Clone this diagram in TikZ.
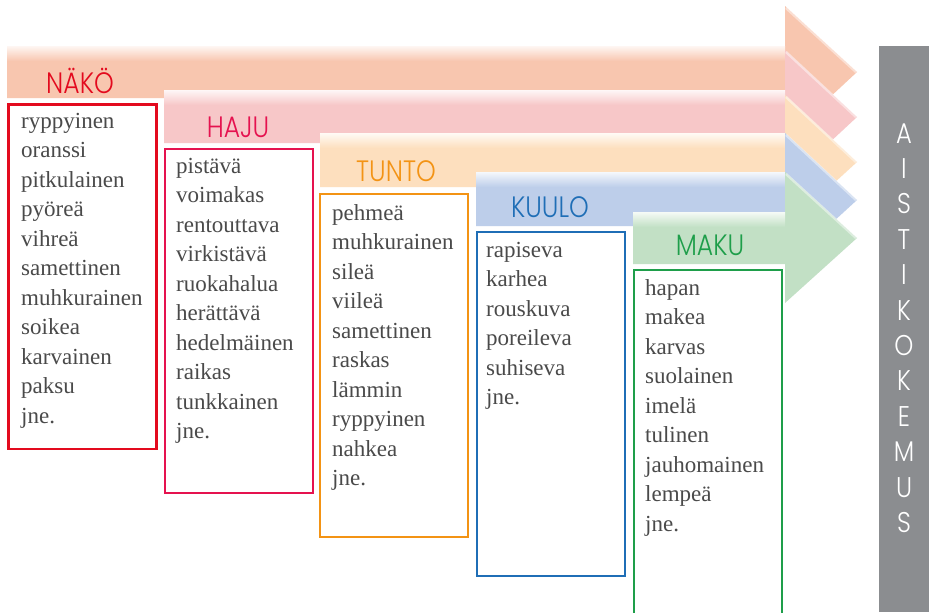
\documentclass[tikz,border=0pt]{standalone}
\usepackage{fontspec}
\setmainfont{Liberation Serif}
\newfontfamily\hfont{Poppins}[UprightFont=*-Light, FakeStretch=0.85]
\definecolor{nakoband}{HTML}{F8C6AF}
\definecolor{hajuband}{HTML}{F7C7C8}
\definecolor{tuntoband}{HTML}{FDDFBE}
\definecolor{kuuloband}{HTML}{BDCEEA}
\definecolor{makuband}{HTML}{C2E0C5}
\definecolor{nakoc}{HTML}{E30A1E}
\definecolor{hajuc}{HTML}{E5124F}
\definecolor{tuntoc}{HTML}{F39314}
\definecolor{kuuloc}{HTML}{1F6EB6}
\definecolor{makuc}{HTML}{1E9E4A}
\definecolor{barc}{HTML}{8B8D90}
\definecolor{txt}{HTML}{4A4A4A}
% #1 colour, #2 x0, #3 top, #4 bottom, #5 head top, #6 tip y, #7 head bottom
\newcommand\senseband[7]{%
  \fill[#1] (#2,#3) -- (785,#3) -- (785,#5) -- (857,#6) -- (785,#7) -- (785,#4) -- (#2,#4) -- cycle;
  \shade[top color=#1!15, bottom color=#1] (#2,#3) rectangle (785,{#3+15});
  \draw[white, opacity=0.45, line width=2.5pt] (786,{#5+2}) -- (856,{#6});
}
\tikzset{
  listbox/.style={line width=2.4pt, fill=white},
  heading/.style={font=\hfont\fontsize{29.5}{29.5}\selectfont, anchor=base, inner sep=0pt},
  item/.style={font=\fontsize{23}{23}\selectfont, text=txt, anchor=base west, inner sep=0pt},
  barletter/.style={font=\hfont\fontsize{28.5}{28.5}\selectfont, text=white, anchor=base, inner sep=0pt}
}
\begin{document}
\begin{tikzpicture}[x=1pt,y=-1pt]
\useasboundingbox (0,0) rectangle (929,613);
\clip (0,0) rectangle (929,613);
\fill[white] (0,0) rectangle (929,613);

% bands with arrowheads
\senseband{nakoband}{7}{46}{98}{6}{72}{139}
\senseband{hajuband}{164}{90}{143}{50}{117}{184}
\senseband{tuntoband}{320}{133}{187}{95}{162}{228}
\senseband{kuuloband}{476}{172}{226}{133}{200}{266}
\senseband{makuband}{633}{212}{264}{172}{238}{303}

% headings
\node[heading, text=nakoc] (h-nako) at (80,93) {NÄKÖ};
\node[heading, text=hajuc] (h-haju) at (238,137) {HAJU};
\node[heading, text=tuntoc] (h-tunto) at (396,181) {TUNTO};
\node[heading, text=kuuloc] (h-kuulo) at (550,217) {KUULO};
\node[heading, text=makuc] (h-maku) at (710,255) {MAKU};

% boxes
\draw[listbox, draw=nakoc] (8.5,104.5) rectangle (156.5,449);
\draw[listbox, draw=hajuc] (165,149) rectangle (313,493);
\draw[listbox, draw=tuntoc] (320,194) rectangle (468,537);
\draw[listbox, draw=kuuloc] (477,232) rectangle (625,576);
\draw[listbox, draw=makuc] (634,270) rectangle (782,640);

% lists
\foreach \w [count=\i] in {ryppyinen,oranssi,pitkulainen,pyöreä,vihreä,samettinen,muhkurainen,soikea,karvainen,paksu,jne.}
  \node[item] (nako-\i) at (21,{128+29.5*(\i-1)}) {\w};
\foreach \w [count=\i] in {pistävä,voimakas,rentouttava,virkistävä,ruokahalua,herättävä,hedelmäinen,raikas,tunkkainen,jne.}
  \node[item] (haju-\i) at (176,{173+29.5*(\i-1)}) {\w};
\foreach \w [count=\i] in {pehmeä,muhkurainen,sileä,viileä,samettinen,raskas,lämmin,ryppyinen,nahkea,jne.}
  \node[item] (tunto-\i) at (332,{220+29.5*(\i-1)}) {\w};
\foreach \w [count=\i] in {rapiseva,karhea,rouskuva,poreileva,suhiseva,jne.}
  \node[item] (kuulo-\i) at (486,{257+29.5*(\i-1)}) {\w};
\foreach \w [count=\i] in {hapan,makea,karvas,suolainen,imelä,tulinen,jauhomainen,lempeä,jne.}
  \node[item] (maku-\i) at (645,{295+29.5*(\i-1)}) {\w};

% grey bar
\fill[barc] (879,46) rectangle (929,612);
\foreach \l [count=\i] in {A,I,S,T,I,K,O,K,E,M,U,S}
  \node[barletter] (aisti-\i) at (904,{143+35.4*(\i-1)}) {\l};
\end{tikzpicture}
\end{document}
